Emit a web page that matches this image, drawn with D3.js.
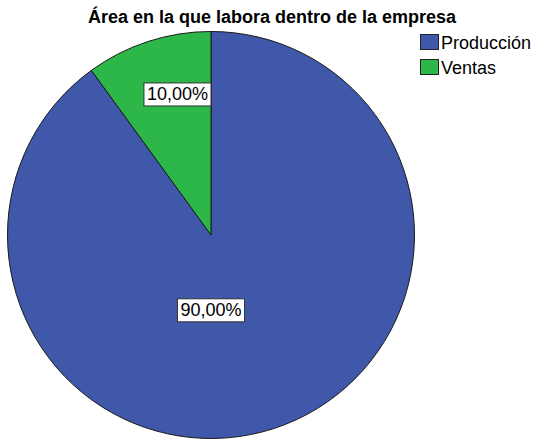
<!DOCTYPE html>
<html><head><meta charset="utf-8">
<script src="https://cdn.jsdelivr.net/npm/d3@7/dist/d3.min.js"></script>
<style>body{margin:0;background:#fff}svg{display:block}text{font-family:"Liberation Sans",Arial,sans-serif}</style>
</head><body>
<svg id="c" width="537" height="440"></svg>
<script>
const title = "Área en la que labora dentro de la empresa";
const categories = ["Producción", "Ventas"];
const values = [90, 10];
const labels = ["90,00%", "10,00%"];
const colors = ["#3F58A9", "#2DB748"];

const svg = d3.select("#c");
const cx = 211, cy = 235, r = 203.5;
const g = svg.append("g").attr("transform", `translate(${cx},${cy})`);
const pie = d3.pie().sort(null).value(d => d.v);
const data = pie(categories.map((c, i) => ({c, v: values[i], l: labels[i], col: colors[i]})));
const arc = d3.arc().innerRadius(0).outerRadius(r);
g.selectAll("path").data(data).join("path")
  .attr("d", arc).attr("fill", d => d.data.col)
  .attr("stroke", "#1a1a1a").attr("stroke-width", 1);

// label placement (layout): [angle offset from slice mid in radians, radius fraction]
const labelPlace = [[Math.PI - (0.45 * 2 * Math.PI), 0.37], [0.08, 0.71]];
data.forEach((d, i) => {
  const mid = (d.startAngle + d.endAngle) / 2 + labelPlace[i][0];
  const rr = labelPlace[i][1] * r;
  const x = Math.sin(mid) * rr, y = -Math.cos(mid) * rr;
  const t = g.append("text").attr("x", x).attr("y", y).attr("text-anchor", "middle")
    .attr("dominant-baseline", "central").attr("font-size", 18).attr("fill", "#000").text(d.data.l);
  const bb = t.node().getBBox();
  g.insert("rect", "text").attr("x", bb.x - 3).attr("y", bb.y - 1.5).attr("width", bb.width + 6).attr("height", bb.height + 3)
    .attr("fill", "#fff").attr("stroke", "#333").attr("stroke-width", 1);
});

svg.append("text").attr("x", 272).attr("y", 23).attr("text-anchor", "middle")
  .attr("font-size", 18).attr("font-weight", "bold").attr("fill", "#000").text(title);

const lg = svg.append("g").attr("transform", "translate(420,34)");
categories.forEach((c, i) => {
  const row = lg.append("g").attr("transform", `translate(0,${i * 25})`);
  row.append("rect").attr("x", 0.5).attr("y", 0.5).attr("width", 18).attr("height", 15)
    .attr("fill", colors[i]).attr("stroke", "#222").attr("stroke-width", 1);
  row.append("text").attr("x", 21).attr("y", 9).attr("dominant-baseline", "central")
    .attr("font-size", 18).attr("fill", "#000").text(c);
});
</script>
</body></html>
